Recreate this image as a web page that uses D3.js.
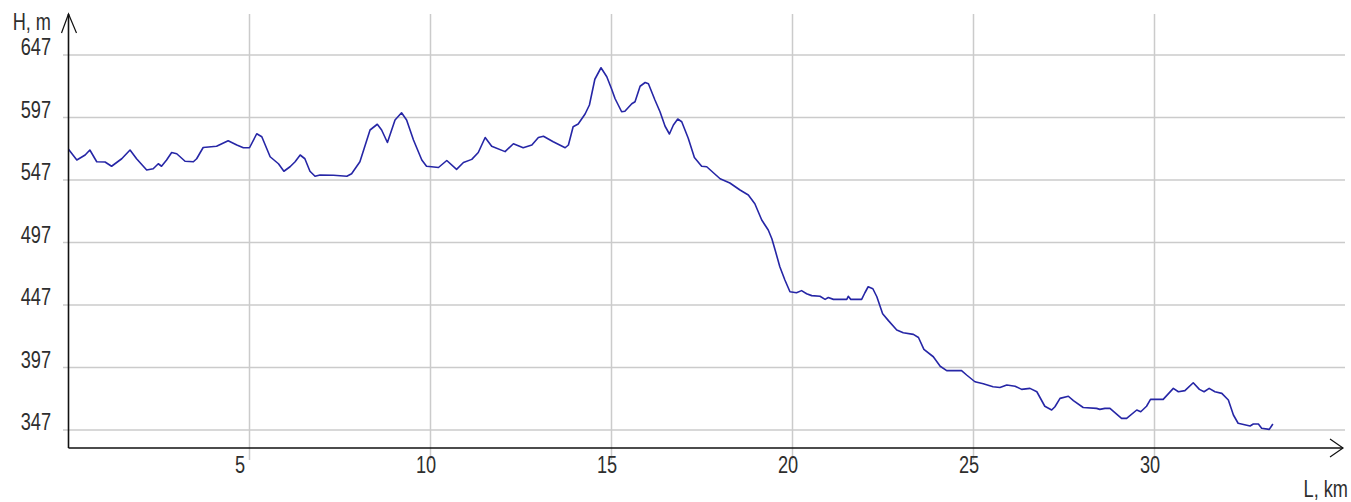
<!DOCTYPE html>
<html>
<head>
<meta charset="utf-8">
<script src="https://cdn.jsdelivr.net/npm/d3@7"></script>
<style>
  html, body { margin: 0; padding: 0; background: #ffffff; }
  svg { display: block; }
  text { font-family: "Liberation Sans", Arial, sans-serif; fill: #2e2e2e; }
</style>
</head>
<body>
<svg id="chart" width="1351" height="502"></svg>
<script>
// ---- data (distance km, elevation m) ----
const distanceKm = [0, 0.23, 0.46, 0.59, 0.78, 1.01, 1.19, 1.47, 1.70, 1.88, 2.16, 2.34, 2.48, 2.57, 2.71, 2.85, 2.99, 3.22, 3.45, 3.54, 3.72, 4.09, 4.41, 4.65, 4.83, 5.0, 5.20, 5.34, 5.57, 5.80, 5.95, 6.12, 6.26, 6.40, 6.53, 6.67, 6.81, 6.95, 7.32, 7.69, 7.82, 8.05, 8.33, 8.53, 8.65, 8.81, 9.02, 9.20, 9.34, 9.53, 9.76, 9.89, 10.03, 10.22, 10.45, 10.72, 10.91, 11.14, 11.32, 11.51, 11.69, 12.06, 12.29, 12.56, 12.80, 12.98, 13.12, 13.39, 13.72, 13.81, 13.94, 14.08, 14.27, 14.39, 14.54, 14.71, 14.87, 15.0, 15.10, 15.28, 15.37, 15.56, 15.65, 15.79, 15.93, 16.02, 16.20, 16.34, 16.48, 16.60, 16.71, 16.83, 16.94, 17.12, 17.29, 17.49, 17.63, 18.0, 18.27, 18.55, 18.78, 18.96, 19.15, 19.33, 19.43, 19.52, 19.65, 19.79, 19.93, 20.11, 20.25, 20.39, 20.53, 20.76, 20.90, 20.99, 21.13, 21.50, 21.54, 21.61, 21.91, 22.00, 22.09, 22.22, 22.33, 22.49, 22.65, 22.88, 23.06, 23.34, 23.48, 23.63, 23.89, 24.08, 24.26, 24.67, 24.81, 25.04, 25.27, 25.54, 25.73, 25.92, 26.15, 26.33, 26.56, 26.75, 26.97, 27.16, 27.25, 27.39, 27.62, 27.76, 28.03, 28.40, 28.49, 28.63, 28.77, 29.09, 29.23, 29.51, 29.62, 29.78, 29.89, 30.24, 30.52, 30.66, 30.84, 31.07, 31.24, 31.37, 31.51, 31.67, 31.86, 32.04, 32.18, 32.31, 32.64, 32.73, 32.87, 32.96, 33.17, 33.27];
const elevationM = [571.6, 563, 567, 571, 561.6, 561.4, 558, 564, 571, 564, 555, 556, 560, 558, 563, 569, 568, 562, 561.6, 564, 573, 574, 578.4, 575, 572.8, 572.8, 584, 581.6, 565.6, 560, 554, 557.6, 561.6, 567, 564, 554, 550, 551, 550.8, 550, 552, 561.6, 587, 591.6, 587, 577, 595, 600.8, 595, 579, 563, 558, 557.6, 557, 562.6, 555.5, 561, 563.5, 569, 581, 574, 569.7, 576, 572.8, 575, 581, 582, 577.6, 572.8, 575, 589.6, 591.8, 599.8, 607, 627.6, 636.8, 629.6, 620, 612, 601.6, 602, 608, 609.6, 622, 625, 624, 611, 601.6, 590, 583.8, 591, 595.8, 593.6, 580.4, 565, 558, 557.6, 548, 544.6, 539, 535, 528, 515, 507, 500, 491, 477.6, 467, 457.6, 456.8, 458.5, 456, 454.5, 454, 451.5, 453, 451.5, 451.5, 454, 451.5, 451.5, 456.8, 461.6, 460, 453.6, 440, 434.5, 427, 424.8, 423.5, 421, 411.5, 405.6, 398, 394.5, 394.5, 391, 385.6, 384, 381.6, 381, 383, 382, 379.5, 380.3, 377.6, 366, 363, 365.6, 372.3, 374, 370.5, 365, 364.3, 363.5, 364.3, 364.3, 356.3, 356.3, 363, 361.6, 366, 371.5, 371.5, 380.3, 377.6, 378.5, 384.8, 379.5, 377.6, 380.3, 377.6, 376.3, 371, 359, 352.4, 350.2, 351.8, 351.8, 348.4, 347.5, 351.8];
const yTicks = [347, 397, 447, 497, 547, 597, 647];
const xTicks = [5, 10, 15, 20, 25, 30];
const yAxisLabel = "H, m";
const xAxisLabel = "L, km";

// ---- layout ----
const svg = d3.select("#chart");
const x = d3.scaleLinear().domain([0, 35]).range([68.5, 1335.5]);
const y = d3.scaleLinear().domain([347, 647]).range([430, 55]);
const axisX0 = 68.5, axisY0 = 448, topY = 14, rightX = 1343, gridRight = 1345;
const gridColor = "#cbcbcb";
const textScale = 0.79;

function label(g, txt, px, py, anchor) {
  g.append("text")
    .attr("transform", `translate(${px},${py}) scale(${textScale},1)`)
    .attr("text-anchor", anchor)
    .attr("font-size", 23)
    .text(txt);
}

// horizontal gridlines
const grid = svg.append("g");
grid.selectAll("line.h").data(yTicks).join("line")
  .attr("class", "h")
  .attr("x1", 63).attr("x2", gridRight)
  .attr("y1", d => y(d)).attr("y2", d => y(d))
  .attr("stroke", gridColor).attr("stroke-width", 1.5);
// vertical gridlines
grid.selectAll("line.v").data(xTicks).join("line")
  .attr("class", "v")
  .attr("x1", d => x(d)).attr("x2", d => x(d))
  .attr("y1", topY).attr("y2", 460)
  .attr("stroke", gridColor).attr("stroke-width", 1.5);

// labels
const labels = svg.append("g");
yTicks.forEach(t => label(labels, String(t), 51, y(t), "end"));
xTicks.forEach(t => label(labels, String(t), x(t) - 14.5, 473, "start"));
label(labels, yAxisLabel, 51, 30, "end");
label(labels, xAxisLabel, 1348, 497, "end");

// profile line
const line = d3.line().x((d, i) => x(distanceKm[i])).y(d => y(d));
svg.append("path")
  .datum(elevationM)
  .attr("d", line)
  .attr("fill", "none")
  .attr("stroke", "#2626a6")
  .attr("stroke-width", 1.6)
  .attr("stroke-linejoin", "round");

// axes with arrows
const ax = svg.append("g").attr("stroke", "#111").attr("fill", "none").attr("stroke-width", 1.6);
ax.append("line").attr("x1", axisX0).attr("y1", axisY0).attr("x2", axisX0).attr("y2", topY);
ax.append("line").attr("x1", axisX0).attr("y1", axisY0).attr("x2", rightX).attr("y2", axisY0);
ax.append("polyline").attr("points", `${axisX0 - 7},${topY + 19} ${axisX0},${topY} ${axisX0 + 8},${topY + 19}`).attr("stroke-width", 1.2);
ax.append("polyline").attr("points", `${rightX - 13},${axisY0 - 9} ${rightX},${axisY0} ${rightX - 13},${axisY0 + 9}`).attr("stroke-width", 1.2);
</script>
</body>
</html>
